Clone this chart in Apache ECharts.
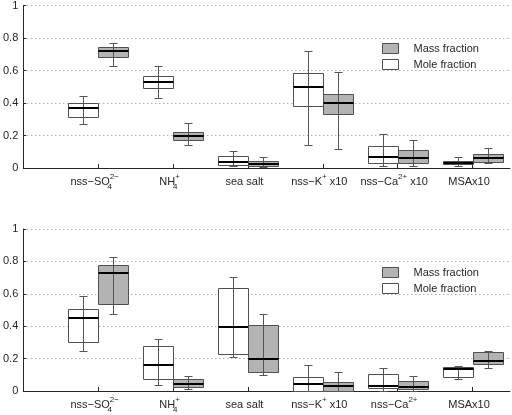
<!DOCTYPE html>
<html>
<head>
  <meta charset="utf-8">
  <title>boxes</title>
  <script src="https://cdn.jsdelivr.net/npm/echarts@6/dist/echarts.min.js"></script>
  <style>
    html, body { margin: 0; padding: 0; background: #fff; }
    #main { width: 512px; height: 415px; }
  </style>
</head>
<body>
  <div id="main"></div>
  <script>
    // x labels (rich text: b = normal, sb = subscript, sp = superscript)
    var labelsTop = ['{b|nss\u2212SO}{sb|4}{sp|2\u2212}', '{b|NH}{sb|4}{sp|+}', '{b|sea salt}',
      '{b|nss\u2212K}{sp|+}{b| x10}', '{b|nss\u2212Ca}{sp|2+}{b| x10}', '{b|MSAx10}'];
    var labelsBottom = ['{b|nss\u2212SO}{sb|4}{sp|2\u2212}', '{b|NH}{sb|4}{sp|+}', '{b|sea salt}',
      '{b|nss\u2212K}{sp|+}{b| x10}', '{b|nss\u2212Ca}{sp|2+}', '{b|MSAx10}'];

    // [min, q1, median, q3, max] per category
    var moleTop = [
      [0.271, 0.316, 0.367, 0.398, 0.445],
      [0.433, 0.490, 0.531, 0.565, 0.629],
      [0.010, 0.018, 0.037, 0.071, 0.102],
      [0.141, 0.382, 0.500, 0.582, 0.720],
      [0.014, 0.033, 0.069, 0.133, 0.208],
      [0.012, 0.022, 0.033, 0.041, 0.067]
    ];
    var massTop = [
      [0.627, 0.684, 0.718, 0.745, 0.771],
      [0.143, 0.173, 0.198, 0.220, 0.276],
      [0.004, 0.010, 0.027, 0.045, 0.067],
      [0.116, 0.331, 0.400, 0.453, 0.590],
      [0.012, 0.029, 0.059, 0.108, 0.173],
      [0.031, 0.035, 0.059, 0.086, 0.122]
    ];
    var moleBottom = [
      [0.247, 0.300, 0.453, 0.508, 0.584],
      [0.037, 0.072, 0.158, 0.280, 0.319],
      [0.208, 0.226, 0.395, 0.638, 0.706],
      [0.000, 0.002, 0.041, 0.088, 0.160],
      [0.002, 0.017, 0.028, 0.105, 0.144],
      [0.074, 0.086, 0.135, 0.150, 0.156]
    ];
    var massBottom = [
      [0.475, 0.535, 0.726, 0.776, 0.827],
      [0.010, 0.023, 0.041, 0.076, 0.095],
      [0.097, 0.115, 0.200, 0.407, 0.473],
      [0.000, 0.002, 0.031, 0.053, 0.115],
      [0.002, 0.014, 0.023, 0.060, 0.091],
      [0.144, 0.165, 0.187, 0.243, 0.249]
    ];

    var FONT = '"Liberation Sans", Arial, sans-serif';
    var INK = '#262626';
    var GRAY = '#b3b3b3';
    var EDGE = '#505050';
    var BOX_W = 0.4;
    var ticks = [1, 2, 3, 4, 5, 6];

    var rich = {
      b: { fontFamily: FONT, fontSize: 11, lineHeight: 18, color: INK },
      sb: { fontFamily: FONT, fontSize: 8, lineHeight: 8, verticalAlign: 'bottom', width: 0, color: INK },
      sp: { fontFamily: FONT, fontSize: 8, lineHeight: 8, verticalAlign: 'top', color: INK }
    };

    function withX(arr, shift) {
      return arr.map(function (d, i) { return [i + 1 + shift].concat(d); });
    }

    function px(v) { return Math.round(v) + 0.5; }

    function renderBox(fill) {
      return function (params, api) {
        var x = api.value(0);
        var lo = api.coord([x, api.value(1)]);
        var q1 = api.coord([x, api.value(2)]);
        var md = api.coord([x, api.value(3)]);
        var q3 = api.coord([x, api.value(4)]);
        var hi = api.coord([x, api.value(5)]);
        var w = api.size([BOX_W, 0])[0];
        var cx = px(lo[0]);
        var left = px(lo[0] - w / 2), right = px(lo[0] + w / 2);
        return {
          type: 'group',
          children: [
            { type: 'rect', shape: { x: left, y: px(q3[1]), width: right - left, height: px(q1[1]) - px(q3[1]) },
              style: { fill: fill, stroke: EDGE, lineWidth: 1 } },
            { type: 'line', shape: { x1: cx, y1: px(hi[1]), x2: cx, y2: px(lo[1]) },
              style: { stroke: '#555', lineWidth: 1 } },
            { type: 'line', shape: { x1: cx - 4, y1: px(hi[1]), x2: cx + 4, y2: px(hi[1]) },
              style: { stroke: '#555', lineWidth: 1 } },
            { type: 'line', shape: { x1: cx - 4, y1: px(lo[1]), x2: cx + 4, y2: px(lo[1]) },
              style: { stroke: '#555', lineWidth: 1 } },
            { type: 'line', shape: { x1: left, y1: Math.round(md[1]), x2: right, y2: Math.round(md[1]) },
              style: { stroke: '#000', lineWidth: 2 } }
          ]
        };
      };
    }

    function xAxisFor(gridIndex, labels, show) {
      return {
        type: 'value', gridIndex: gridIndex, min: 0, max: 6.5, show: show,
        axisLine: { lineStyle: { color: INK } },
        axisTick: { show: true, inside: true, length: 4, customValues: ticks, lineStyle: { color: INK } },
        axisLabel: {
          customValues: ticks, margin: 5, rich: rich, padding: [0, 7, 0, 0],
          formatter: function (v) { return labels[Math.round(v) - 1] || ''; }
        },
        splitLine: { show: false }
      };
    }

    function yAxisFor(gridIndex) {
      return {
        type: 'value', gridIndex: gridIndex, min: 0, max: 1, interval: 0.2,
        axisLine: { show: true, lineStyle: { color: INK } },
        axisTick: { show: true, inside: true, length: 3, lineStyle: { color: INK } },
        axisLabel: { color: INK, fontFamily: FONT, fontSize: 11, margin: 5 },
        splitLine: { lineStyle: { color: '#8c8c8c', type: [1, 3] } }
      };
    }

    function series(name, data, xIdx, yIdx, fill) {
      return {
        type: 'custom', name: name, xAxisIndex: xIdx, yAxisIndex: yIdx,
        itemStyle: { color: fill },
        renderItem: renderBox(fill),
        encode: { x: 0, y: [1, 2, 3, 4, 5] },
        data: data
      };
    }

    function legendFor(top) {
      return {
        orient: 'vertical', left: 382, top: top, padding: 0, icon: 'rect',
        itemWidth: 16, itemHeight: 10, itemGap: 5, selectedMode: false,
        textStyle: { color: INK, fontFamily: FONT, fontSize: 11, padding: [0, 0, 0, 10] },
        data: [
          { name: 'Mass fraction', itemStyle: { color: GRAY, borderColor: EDGE, borderWidth: 1 } },
          { name: 'Mole fraction', itemStyle: { color: '#fff', borderColor: EDGE, borderWidth: 1 } }
        ]
      };
    }

    var option = {
      animation: false,
      grid: [
        { left: 22, top: 5, width: 488, height: 163 },
        { left: 22, top: 229, width: 488, height: 162 }
      ],
      legend: [legendFor(43), legendFor(267)],
      xAxis: [
        xAxisFor(0, labelsTop, true), xAxisFor(0, labelsTop, false),
        xAxisFor(1, labelsBottom, true), xAxisFor(1, labelsBottom, false)
      ],
      yAxis: [yAxisFor(0), yAxisFor(1)],
      series: [
        series('Mole fraction', withX(moleTop, -BOX_W / 2), 0, 0, '#fff'),
        series('Mass fraction', withX(massTop, BOX_W / 2), 0, 0, GRAY),
        series('Mole fraction', withX(moleBottom, -BOX_W / 2), 2, 1, '#fff'),
        series('Mass fraction', withX(massBottom, BOX_W / 2), 2, 1, GRAY)
      ]
    };

    var chart = echarts.init(document.getElementById('main'));
    chart.setOption(option);
  </script>
</body>
</html>
